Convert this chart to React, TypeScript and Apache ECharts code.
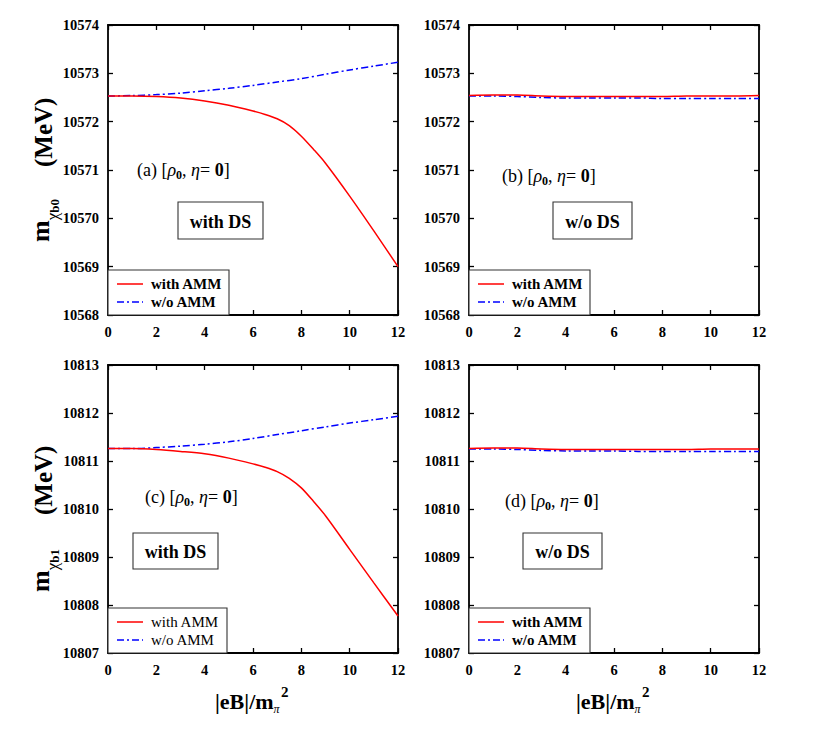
import React, { useEffect, useRef } from 'react';
import * as echarts from 'echarts';

// ---------- data ----------
const xStd = [0, 1, 2, 3, 4, 5, 6, 7, 8, 9, 10, 11, 12];
const xFine = [0, 1, 2, 3, 4, 5, 6, 6.5, 7, 7.5, 8, 8.5, 9, 10, 11, 12];

const aWithAMM = [10572.53, 10572.53, 10572.52, 10572.49, 10572.43, 10572.34, 10572.22, 10572.15, 10572.06, 10571.92, 10571.7, 10571.43, 10571.14, 10570.46, 10569.74, 10569.0];
const aWoAMM = [10572.53, 10572.54, 10572.56, 10572.59, 10572.64, 10572.69, 10572.75, 10572.82, 10572.89, 10572.98, 10573.07, 10573.15, 10573.23];
const bWithAMM = [10572.54, 10572.55, 10572.55, 10572.53, 10572.52, 10572.52, 10572.52, 10572.52, 10572.52, 10572.53, 10572.53, 10572.53, 10572.54];
const bWoAMM = [10572.53, 10572.53, 10572.52, 10572.5, 10572.49, 10572.49, 10572.49, 10572.49, 10572.48, 10572.48, 10572.48, 10572.48, 10572.48];
const cWithAMM = [10811.26, 10811.26, 10811.24, 10811.2, 10811.15, 10811.06, 10810.94, 10810.87, 10810.78, 10810.64, 10810.44, 10810.16, 10809.86, 10809.16, 10808.46, 10807.77];
const cWoAMM = [10811.26, 10811.26, 10811.28, 10811.31, 10811.35, 10811.4, 10811.47, 10811.55, 10811.63, 10811.71, 10811.79, 10811.86, 10811.93];
const dWithAMM = [10811.26, 10811.27, 10811.27, 10811.25, 10811.24, 10811.24, 10811.24, 10811.24, 10811.24, 10811.24, 10811.25, 10811.25, 10811.25];
const dWoAMM = [10811.25, 10811.25, 10811.24, 10811.22, 10811.21, 10811.21, 10811.21, 10811.2, 10811.2, 10811.2, 10811.2, 10811.2, 10811.2];

const xRange = [0, 12];
const yRangeB0 = [10568, 10574];
const yRangeB1 = [10807, 10813];
const panelLetters = ['a', 'b', 'c', 'd'];
const dsLabels = ['with DS', 'w/o DS', 'with DS', 'w/o DS'];
const legendNames = ['with AMM', 'w/o AMM'];

// ---------- helpers ----------
const FAMILY = '"Liberation Serif", "Times New Roman", serif';
const RED = '#ff0000';
const BLUE = '#0000ff';
const DASHDOT = [7, 3, 2, 3];

type Seg = { t: string; size: number; bold?: boolean; italic?: boolean; dy?: number; at?: number };

let ctx: CanvasRenderingContext2D | null = null;
function fontStr(s: Seg) {
  return `${s.italic ? 'italic ' : ''}${s.bold ? 'bold ' : ''}${s.size}px ${FAMILY}`;
}
function measure(text: string, font: string) {
  if (!ctx) ctx = document.createElement('canvas').getContext('2d');
  if (!ctx) return text.length * 8;
  ctx.font = font;
  return ctx.measureText(text).width;
}
function layoutSegs(segs: Seg[]) {
  let x = 0;
  let maxX = 0;
  const children: any[] = [];
  for (const s of segs) {
    if (s.at !== undefined) x = s.at;
    children.push({
      type: 'text',
      x,
      y: s.dy || 0,
      style: {
        text: s.t,
        fontFamily: FAMILY,
        fontSize: s.size,
        fontWeight: s.bold ? 'bold' : 'normal',
        fontStyle: s.italic ? 'italic' : 'normal',
        fill: '#000',
        align: 'left',
        verticalAlign: 'middle',
      },
    });
    x += measure(s.t, fontStr(s));
    maxX = Math.max(maxX, x);
  }
  return { children, width: maxX };
}

// ---------- layout ----------
const grids = [
  { left: 108, top: 25, width: 290, height: 290 },
  { left: 469, top: 25, width: 290, height: 290 },
  { left: 108, top: 365, width: 290, height: 288 },
  { left: 469, top: 365, width: 290, height: 288 },
];

const annotPos = [
  [137, 170],
  [502, 176],
  [145, 497],
  [505, 501],
];
const dsBoxes = [
  [178, 202, 85, 37],
  [553, 202, 79, 37],
  [133, 533, 85, 36],
  [523, 533, 79, 36],
];
const legendBold = [true, true, false, true];
const legendWidth = [121, 121, 119, 121];

function buildOption() {
  const xAxes: any[] = [];
  const yAxes: any[] = [];
  const frameLine = { show: true, onZero: false, lineStyle: { color: '#000', width: 1.8 } };
  const tick = { show: true, inside: true, length: 5, lineStyle: { color: '#000', width: 1.3 } };
  const tickLabel = {
    show: true,
    color: '#000',
    fontFamily: FAMILY,
    fontWeight: 'bold',
    fontSize: 14.5,
    formatter: (v: number) => String(v),
  };
  // main axes 0..3, mirrors 4..7
  for (let pass = 0; pass < 2; pass++) {
    for (let i = 0; i < 4; i++) {
      const yr = i < 2 ? yRangeB0 : yRangeB1;
      xAxes.push({
        type: 'value',
        gridIndex: i,
        position: pass === 0 ? 'bottom' : 'top',
        min: xRange[0],
        max: xRange[1],
        interval: 2,
        axisLine: frameLine,
        axisTick: tick,
        axisLabel: pass === 0 ? { ...tickLabel, margin: 9 } : { show: false },
        splitLine: { show: false },
      });
      yAxes.push({
        type: 'value',
        gridIndex: i,
        position: pass === 0 ? 'left' : 'right',
        min: yr[0],
        max: yr[1],
        interval: 1,
        axisLine: frameLine,
        axisTick: tick,
        axisLabel: pass === 0 ? { ...tickLabel, margin: 9 } : { show: false },
        splitLine: { show: false },
      });
    }
  }

  const pairs = (xs: number[], ys: number[]) => xs.map((x, k) => [x, ys[k]]);
  const redData = [pairs(xFine, aWithAMM), pairs(xStd, bWithAMM), pairs(xFine, cWithAMM), pairs(xStd, dWithAMM)];
  const blueData = [pairs(xStd, aWoAMM), pairs(xStd, bWoAMM), pairs(xStd, cWoAMM), pairs(xStd, dWoAMM)];

  const series: any[] = [];
  for (let i = 0; i < 4; i++) {
    series.push({
      name: legendNames[0],
      type: 'line',
      xAxisIndex: i,
      yAxisIndex: i,
      data: redData[i],
      showSymbol: false,
      symbol: 'none',
      smooth: 0.3,
      lineStyle: { color: RED, width: 1.5 },
      z: 3,
    });
    series.push({
      name: legendNames[1],
      type: 'line',
      xAxisIndex: i,
      yAxisIndex: i,
      data: blueData[i],
      showSymbol: false,
      symbol: 'none',
      smooth: 0.3,
      lineStyle: { color: BLUE, width: 1.5, type: DASHDOT },
      z: 2,
    });
  }

  const graphic: any[] = [];
  for (let i = 0; i < 4; i++) {
    const g = grids[i];
    const bottom = g.top + g.height;
    // legend
    const lx = g.left;
    const ly = bottom - 45;
    graphic.push({
      type: 'rect',
      shape: { x: lx, y: ly, width: legendWidth[i], height: 45 },
      style: { fill: '#fff', stroke: '#333', lineWidth: 1.1 },
      z: 10,
    });
    const rows = [bottom - 31, bottom - 13];
    rows.forEach((ry, k) => {
      graphic.push({
        type: 'line',
        shape: { x1: lx + 9, y1: ry, x2: lx + 35, y2: ry },
        style: k === 0 ? { stroke: RED, lineWidth: 1.5 } : { stroke: BLUE, lineWidth: 1.5, lineDash: DASHDOT },
        z: 11,
      });
      graphic.push({
        type: 'text',
        x: lx + 43,
        y: ry,
        style: {
          text: legendNames[k],
          fontFamily: FAMILY,
          fontSize: 15,
          fontWeight: legendBold[i] ? 'bold' : 'normal',
          fill: '#000',
          align: 'left',
          verticalAlign: 'middle',
        },
        z: 11,
      });
    });
    // annotation (x) [rho0, eta= 0]
    const ann = layoutSegs([
      { t: `(${panelLetters[i]}) [`, size: 18 },
      { t: 'ρ', size: 18, italic: true },
      { t: '0', size: 12, bold: true, dy: 5 },
      { t: ', ', size: 18 },
      { t: 'η', size: 18, italic: true },
      { t: '= ', size: 18 },
      { t: '0', size: 18, bold: true },
      { t: ']', size: 18 },
    ]);
    graphic.push({ type: 'group', x: annotPos[i][0], y: annotPos[i][1], children: ann.children, z: 12 });
    // DS box
    const [bx, by, bw, bh] = dsBoxes[i];
    graphic.push({
      type: 'rect',
      shape: { x: bx, y: by, width: bw, height: bh },
      style: { fill: '#fff', stroke: '#333', lineWidth: 1.1 },
      z: 10,
    });
    graphic.push({
      type: 'text',
      x: bx + bw / 2,
      y: by + bh / 2 + 1,
      style: {
        text: dsLabels[i],
        fontFamily: FAMILY,
        fontSize: 18,
        fontWeight: 'bold',
        fill: '#000',
        align: 'center',
        verticalAlign: 'middle',
      },
      z: 11,
    });
  }

  // x-axis titles
  for (const i of [2, 3]) {
    const g = grids[i];
    const t = layoutSegs([
      { t: '|eB|/m', size: 22, bold: true },
      { t: 'π', size: 12, italic: true, dy: 8 },
      { t: '2', size: 15, bold: true, dy: -9, at: 66 },
    ]);
    graphic.push({ type: 'group', x: g.left + g.width / 2 - 38, y: 701, children: t.children });
  }

  // y-axis titles
  const yTitles = [
    { sub: 'b0', y0: 242, mevAt: 75 },
    { sub: 'b1', y0: 592, mevAt: 77 },
  ];
  yTitles.forEach((yt) => {
    const t = layoutSegs([
      { t: 'm', size: 26, bold: true, dy: -3 },
      { t: 'χ', size: 17, dy: 9 },
      { t: yt.sub, size: 13, bold: true, dy: 11 },
      { t: '(MeV)', size: 25, bold: true, at: yt.mevAt },
    ]);
    graphic.push({ type: 'group', x: 43, y: yt.y0, rotation: Math.PI / 2, children: t.children });
  });

  return {
    animation: false,
    backgroundColor: '#fff',
    textStyle: { fontFamily: FAMILY },
    grid: grids.map((g) => ({ ...g, containLabel: false })),
    xAxis: xAxes,
    yAxis: yAxes,
    series,
    graphic,
  };
}

export default function App() {
  const ref = useRef<HTMLDivElement>(null);
  useEffect(() => {
    if (!ref.current) return;
    const chart = echarts.init(ref.current, undefined, { renderer: 'svg' });
    chart.setOption(buildOption() as any);
    return () => chart.dispose();
  }, []);
  return (
    <div
      ref={ref}
      style={{ position: 'absolute', left: 0, top: 0, width: 830, height: 755, background: '#fff' }}
    />
  );
}
